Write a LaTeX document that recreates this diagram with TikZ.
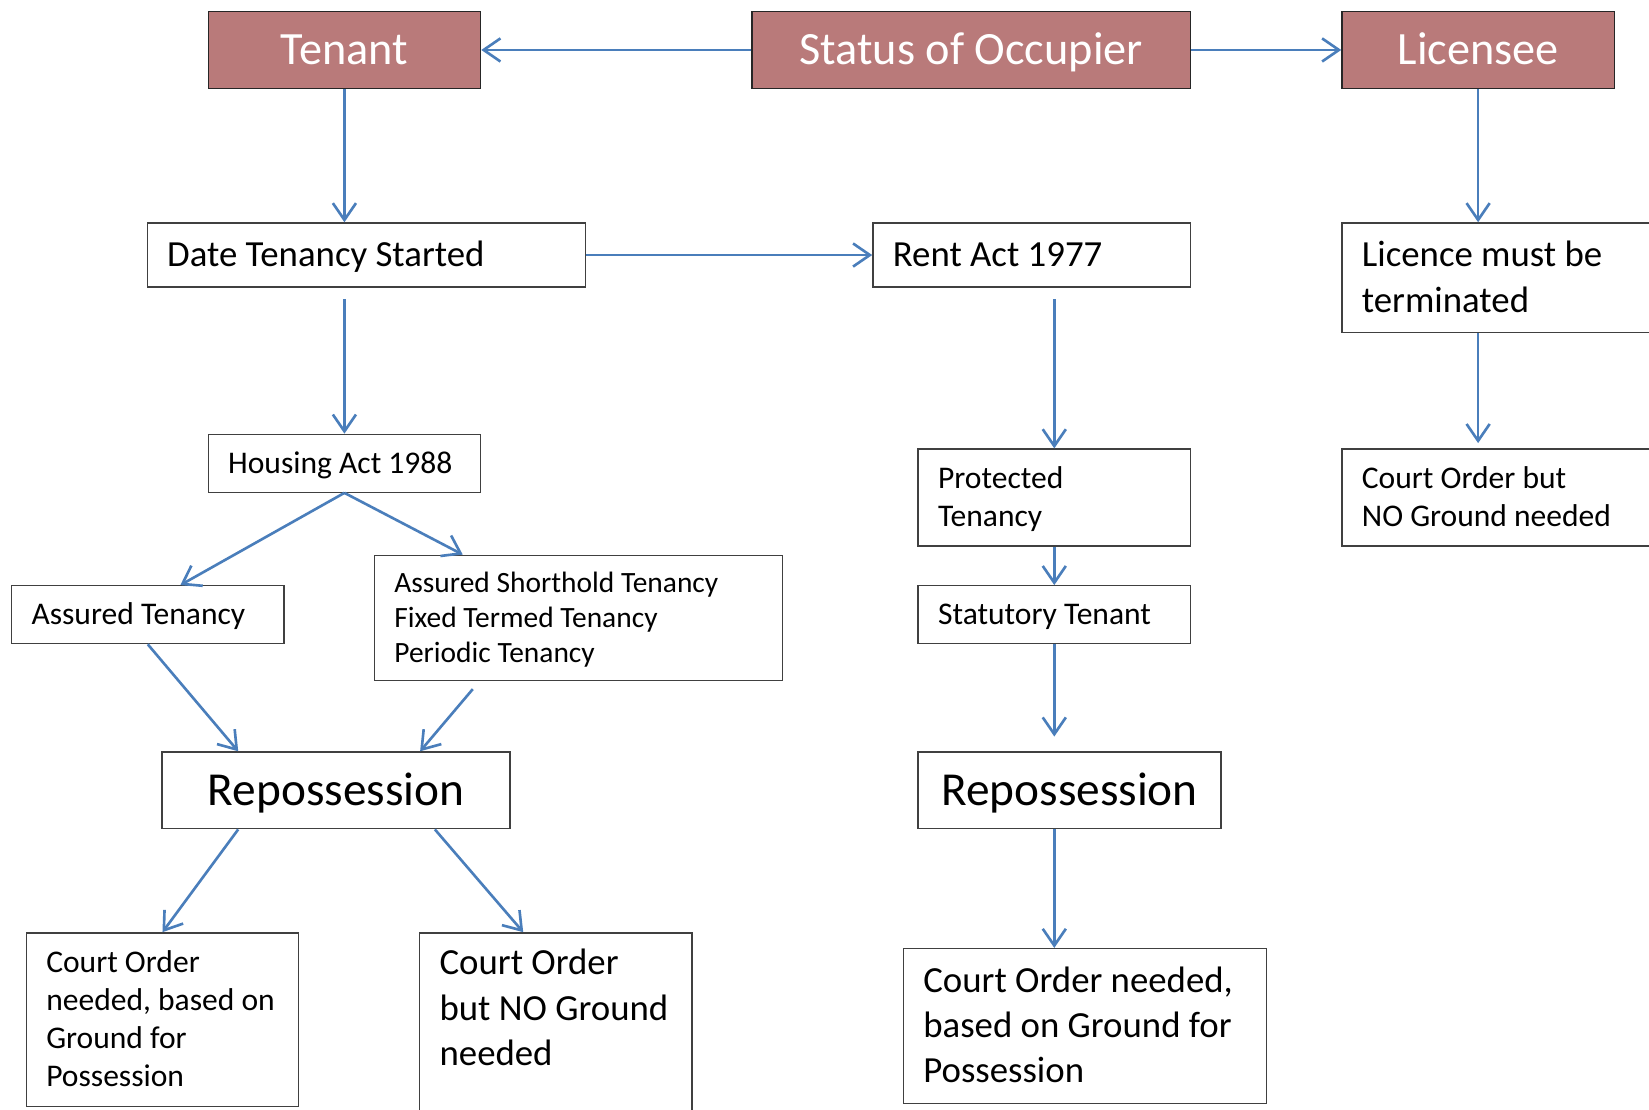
\documentclass[tikz,border=0pt]{standalone}
\usepackage{fontspec}
\setmainfont{Carlito}
\usetikzlibrary{arrows.meta,calc,positioning}
\definecolor{colorocc}{HTML}{B97A7A}
\definecolor{colorarr}{HTML}{4A7EBB}
\definecolor{colorbox}{HTML}{404040}
\newcommand\fsbig{\fontsize{35}{43}\selectfont}
\newcommand\fsmid{\fontsize{30}{36}\selectfont}
\newcommand\fssmall{\fontsize{28}{33}\selectfont}
\newcommand\fshuge{\fontsize{45}{54}\selectfont}
\tikzset{
  boxtop/.style={draw=black!85, fill=colorocc, text=white, line width=1.3pt,
    minimum height=73pt, inner sep=0pt, font=\fontsize{44}{53}\selectfont,
    text height=28.3pt, text depth=0pt},
  boxplain/.style={draw=colorbox, line width=1.3pt, inner xsep=19pt,
    inner ysep=0pt, align=flush left},
  txtbig/.style={font=\fsbig, text height=22.5pt, text depth=#1*43pt},
  txtbig/.default=0,
  txtmid/.style={font=\fsmid, text height=19.3pt, text depth=#1*36pt},
  txtmid/.default=0,
  txtsmall/.style={font=\fssmall, text height=18pt, text depth=#1*33pt},
  txtsmall/.default=0,
  txthuge/.style={font=\fshuge, text height=29pt, text depth=0pt, align=flush center},
  edgeocc/.style={colorarr, line width=2.5pt, -{Straight Barb[length=16pt,width=22pt]}}
}

\begin{document}
\begin{tikzpicture}[x=1pt, y=-1pt]
\useasboundingbox (0,0) rectangle (1568,1055);
\clip (0,0) rectangle (1568,1055);
% top row
\node[boxtop, minimum width=259pt] (tenant) at (327.5,47.5) {Tenant};
\node[boxtop, minimum width=417pt] (status) at (923.5,47.5) {Status of Occupier};
\node[boxtop, minimum width=259pt] (licensee) at (1405.5,47.5) {Licensee};
% second row
\node[boxplain, txtbig, text width=379pt, minimum height=61pt] (date) at (348.5,242.5) {Date Tenancy Started};
\node[boxplain, txtbig, text width=264pt, minimum height=61pt] (rent) at (981,242.5) {Rent Act 1977};
\node[boxplain, txtbig=1, text width=286pt, minimum height=104pt] (licence) at (1438,264) {Licence must be\\terminated};
% acts and tenancies
\node[boxplain, txtmid, text width=221pt, minimum height=55pt] (housing) at (327.5,440.5) {Housing Act 1988};
\node[boxplain, txtmid=1, text width=221pt, minimum height=92pt] (protected) at (1002.5,473) {Protected\\Tenancy};
\node[boxplain, txtmid=1, text width=286pt, minimum height=92pt] (courtlic) at (1438,473) {Court Order but\\NO Ground needed};
\node[boxplain, txtmid, text width=221pt, minimum height=55pt] (assured) at (140.5,584.5) {Assured Tenancy};
\node[boxplain, txtsmall=2, text width=350pt, minimum height=119pt] (ast) at (550,587.5) {Assured Shorthold Tenancy\\Fixed Termed Tenancy\\Periodic Tenancy};
\node[boxplain, txtmid, text width=221pt, minimum height=55pt] (statutory) at (1002.5,584.5) {Statutory Tenant};
% repossession
\node[boxplain, txthuge, text width=293pt, minimum height=73pt] (repossL) at (319.5,751.5) {Repossession};
\node[boxplain, txthuge, text width=250pt, minimum height=73pt] (repossR) at (1017,751.5) {Repossession};
% court orders
\node[boxplain, txtmid=3, text width=221pt, minimum height=165pt] (courtA) at (154.5,969.5) {Court Order\\needed, based on\\Ground for\\Possession};
\node[boxplain, font=\fsbig, text height=22.5pt, text depth=132.5pt, text width=221pt, minimum height=190pt] (courtB) at (528.5,982) {Court Order\\but NO Ground\\needed};
\node[boxplain, txtbig=2, text width=307pt, minimum height=147pt] (courtC) at (1031.5,975.5) {Court Order needed,\\based on Ground for\\Possession};
% connectors
\draw[edgeocc] (status) -- (tenant);
\draw[edgeocc] (status) -- (licensee);
\draw[edgeocc] (tenant.south) -- (tenant.south |- date.north);
\draw[edgeocc] (date.east) -- (rent.west);
\draw[edgeocc, shorten <=11pt] (housing.north |- date.south) -- (housing.north);
\draw[edgeocc] (housing.south) -- ([xshift=31pt]assured.north);
\draw[edgeocc] (housing.south) -- ([xshift=-110pt]ast.north);
\draw[edgeocc] (assured.south) -- ([xshift=-93pt]repossL.north);
\draw[edgeocc, shorten <=10pt] ([xshift=-94pt]ast.south) -- ([xshift=80pt]repossL.north);
\draw[edgeocc] ([xshift=-93pt]repossL.south) -- (courtA.north);
\draw[edgeocc] ([xshift=94pt]repossL.south) -- ([xshift=-31pt]courtB.north);
\draw[edgeocc, shorten <=11pt] (protected.north |- rent.south) -- (protected.north);
\draw[edgeocc] (protected) -- (statutory);
\draw[edgeocc, shorten >=14pt] (statutory.south) -- (statutory.south |- repossR.north);
\draw[edgeocc] (statutory.south |- repossR.south) -- (statutory.south |- courtC.north);
\draw[edgeocc] (licensee.south) -- (licensee.south |- licence.north);
\draw[edgeocc, shorten >=5pt] (licensee.south |- licence.south) -- (licensee.south |- courtlic.north);
\end{tikzpicture}
\end{document}
